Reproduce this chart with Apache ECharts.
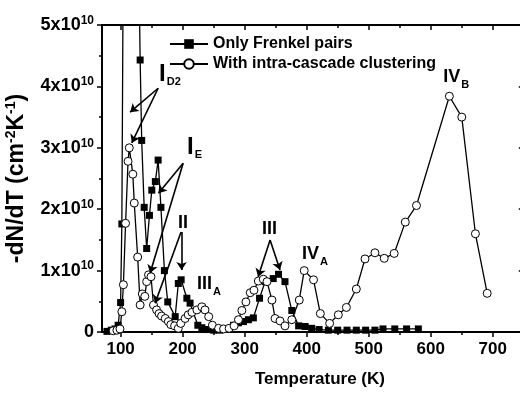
<!DOCTYPE html>
<html><head><meta charset="utf-8">
<script src="https://cdn.jsdelivr.net/npm/echarts@6/dist/echarts.min.js"></script>
<style>html,body{margin:0;padding:0;background:#fff}#c{width:520px;height:395px}</style>
</head><body><div id="c"></div>
<script>
// Temperature (K) and -dN/dT in units of 1e10 cm^-2 K^-1
const frenkelT = [78, 85, 91, 96, 100, 102, 105, 110, 118, 128, 131.5, 134, 138, 142, 146.5, 150.3, 156, 160.5, 165, 170.6, 176, 188, 193, 197.6, 206.8, 212, 224.5, 231, 240, 250, 260, 270, 282, 290, 298, 306, 314, 324, 333, 346, 354.5, 365, 376, 387, 397.5, 408, 420, 435, 450, 465, 480, 495, 510, 523, 542, 561, 580];
const frenkelV = [0.01, 0.03, 0.05, 0.11, 0.48, 1.76, 7.5, 10, 9, 7, 4.43, 3.12, 2.03, 1.36, 1.9, 2.31, 2.45, 2.8, 2.03, 1.0, 0.49, 0.25, 0.79, 0.85, 0.55, 0.47, 0.11, 0.07, 0.04, 0.03, 0.03, 0.05, 0.11, 0.15, 0.17, 0.2, 0.23, 0.55, 0.82, 0.87, 0.94, 0.82, 0.35, 0.1, 0.09, 0.06, 0.04, 0.03, 0.03, 0.03, 0.03, 0.03, 0.03, 0.05, 0.05, 0.05, 0.05];
const clusterT = [88, 94, 99, 102, 104.5, 108, 112, 114, 119.7, 122, 127.5, 131.5, 135, 139, 142, 145, 149, 153, 158, 162, 166, 172, 177, 181, 187, 193, 197, 204, 209, 215, 223, 231, 236, 242, 248, 258, 266, 275, 283, 290, 295.5, 302, 309, 315, 322, 330, 336, 344, 349, 357, 365, 376, 388, 396, 411, 422, 437, 451, 464, 480, 494, 510, 525, 541, 559, 577, 630, 650, 672, 691];
const clusterV = [0.02, 0.03, 0.05, 0.33, 0.77, 1.77, 2.78, 3.0, 2.57, 2.1, 1.22, 0.44, 0.62, 0.58, 0.82, 0.93, 0.9, 0.44, 0.36, 0.3, 0.26, 0.22, 0.17, 0.12, 0.1, 0.06, 0.14, 0.22, 0.28, 0.32, 0.36, 0.41, 0.36, 0.25, 0.11, 0.06, 0.05, 0.06, 0.1, 0.2, 0.35, 0.49, 0.64, 0.68, 0.83, 0.86, 0.82, 0.52, 0.22, 0.18, 0.1, 0.2, 0.52, 1.0, 0.85, 0.3, 0.14, 0.28, 0.4, 0.7, 1.19, 1.29, 1.2, 1.28, 1.79, 2.06, 3.84, 3.5, 1.6, 0.63];
const xMajorTicks = [100, 200, 300, 400, 500, 600, 700];
const xMinorTicks = [150, 250, 350, 450, 550, 650];
const seriesNames = ['Only Frenkel pairs', 'With intra-cascade clustering'];

const FONT = '"Liberation Sans", Arial, sans-serif';
const zip = (a, b) => a.map((t, i) => [t, b[i]]);

// annotation labels (data coordinates) and arrows
const annotations = [
  {pos: [162, 4.2], main: 'I', sub: 'D2', big: true},
  {pos: [207, 3.01], main: 'I', sub: 'E', big: true},
  {pos: [192.7, 1.77], main: 'II', sub: ''},
  {pos: [223.3, 0.78], main: 'III', sub: 'A'},
  {pos: [328, 1.68], main: 'III', sub: ''},
  {pos: [392.6, 1.27], main: 'IV', sub: 'A'},
  {pos: [620, 4.16], main: 'IV', sub: 'B'}
];
const arrows = [
  [[160.5, 3.97], [115.3, 3.58]],
  [[160.5, 3.97], [118, 3.08]],
  [[200.8, 2.75], [161, 2.26]],
  [[200.8, 2.75], [147.6, 0.96]],
  [[197.5, 1.63], [155.6, 0.47]],
  [[198.3, 1.63], [198.3, 1.01]],
  [[341, 1.5], [321.7, 0.9]],
  [[341, 1.5], [357, 1.01]]
];

const chart = echarts.init(document.getElementById('c'), null, {renderer: 'canvas'});
const axLine = {show: true, lineStyle: {color: '#000', width: 2}};
const baseX = {type: 'value', min: 70, max: 750, splitLine: {show: false}};
const tickStyle = {color: '#000', width: 1.5};

chart.setOption({
  animation: false,
  backgroundColor: '#fff',
  textStyle: {fontFamily: FONT, color: '#000'},
  grid: {left: 102, top: 25, width: 421.8, height: 307, containLabel: false, outerBoundsMode: 'none'},
  legend: {
    data: seriesNames,
    orient: 'vertical',
    left: 164, top: 31,
    itemWidth: 38, itemHeight: 12, itemGap: 4,
    textStyle: {fontFamily: FONT, fontSize: 16, fontWeight: 'bold', color: '#000'}
  },
  xAxis: [
    Object.assign({}, baseX, {
      position: 'bottom',
      name: 'Temperature (K)', nameLocation: 'middle', nameGap: 39,
      nameTextStyle: {fontFamily: FONT, fontSize: 17, fontWeight: 'bold', color: '#000', padding: [0, 0, 0, 14]},
      axisLine: axLine,
      axisTick: {show: true, inside: false, length: 5, lineStyle: tickStyle, customValues: xMajorTicks},
      axisLabel: {show: true, margin: 9, fontFamily: FONT, fontSize: 17, fontWeight: 'bold', color: '#000', customValues: xMajorTicks}
    }),
    Object.assign({}, baseX, {
      position: 'bottom',
      axisLine: {show: false},
      axisTick: {show: true, inside: false, length: 3, lineStyle: tickStyle, customValues: xMinorTicks},
      axisLabel: {show: false}
    }),
    Object.assign({}, baseX, {
      position: 'top',
      axisLine: axLine,
      axisTick: {show: true, inside: true, length: 5, lineStyle: tickStyle, customValues: xMajorTicks},
      axisLabel: {show: false}
    }),
    Object.assign({}, baseX, {
      position: 'top',
      axisLine: {show: false},
      axisTick: {show: true, inside: true, length: 3, lineStyle: tickStyle, customValues: xMinorTicks},
      axisLabel: {show: false}
    })
  ],
  yAxis: [
    {
      type: 'value', min: 0, max: 5, interval: 1, position: 'left',
      name: '-dN/dT (cm{s|-2}K{s|-1})', nameLocation: 'middle', nameGap: 69, nameRotate: 90,
      nameTextStyle: {fontFamily: FONT, fontSize: 23, fontWeight: 'bold', color: '#000', lineHeight: 26,
        rich: {s: {fontFamily: FONT, fontSize: 14, fontWeight: 'bold', color: '#000', padding: [0, 0, 11, 0]}}},
      splitLine: {show: false},
      axisLine: axLine,
      axisTick: {show: true, inside: false, length: 5, lineStyle: tickStyle},
      minorTick: {show: true, splitNumber: 2, length: 3, lineStyle: tickStyle},
      axisLabel: {
        margin: 8, color: '#000',
        formatter: v => v === 0 ? '{m|0}' : '{m|' + v + 'x10}{s|10}',
        rich: {
          m: {fontFamily: FONT, fontSize: 18, fontWeight: 'bold', color: '#000', lineHeight: 22},
          s: {fontFamily: FONT, fontSize: 12, fontWeight: 'bold', color: '#000', padding: [0, 0, 9, 0]}
        }
      }
    },
    {
      type: 'value', min: 0, max: 5, interval: 1, position: 'right',
      splitLine: {show: false},
      axisLine: axLine,
      axisTick: {show: true, inside: true, length: 5, lineStyle: tickStyle},
      minorTick: {show: true, splitNumber: 2, length: 3, lineStyle: tickStyle},
      axisLabel: {show: false}
    }
  ],
  series: [
    {
      name: seriesNames[0], type: 'line', xAxisIndex: 0, yAxisIndex: 0,
      data: zip(frenkelT, frenkelV),
      symbol: 'rect', symbolSize: 7, showAllSymbol: true,
      itemStyle: {color: '#000'},
      lineStyle: {color: '#000', width: 1.3},
      markLine: {
        silent: true, symbol: ['none', 'arrow'], symbolSize: 8,
        label: {show: false},
        lineStyle: {color: '#000', width: 1.6, type: 'solid'},
        emphasis: {disabled: true},
        data: arrows.map(a => [{coord: a[0]}, {coord: a[1]}])
      }
    },
    {
      name: seriesNames[1], type: 'line', xAxisIndex: 0, yAxisIndex: 0,
      data: zip(clusterT, clusterV),
      symbol: 'circle', symbolSize: 8, showAllSymbol: true,
      itemStyle: {color: '#fff', borderColor: '#000', borderWidth: 1},
      lineStyle: {color: '#000', width: 1.3}
    },
    {
      name: 'labels', type: 'scatter', xAxisIndex: 0, yAxisIndex: 0,
      symbolSize: 0, silent: true,
      itemStyle: {color: '#000', opacity: 1},
      emphasis: {disabled: true},
      data: annotations.map(a => ({
        value: a.pos,
        label: {
          show: true, position: 'right', distance: 0, color: '#000', opacity: 1,
          formatter: (a.big ? '{b|' : '{m|') + a.main + '}' + (a.sub ? '{s|' + a.sub + '}' : ''),
          rich: {
            b: {fontFamily: FONT, fontSize: 24, fontWeight: 'bold', color: '#000', lineHeight: 24},
            m: {fontFamily: FONT, fontSize: 18, fontWeight: 'bold', color: '#000', lineHeight: 20},
            s: {fontFamily: FONT, fontSize: 11, fontWeight: 'bold', color: '#000', padding: [16, 0, 0, 1]}
          }
        }
      }))
    }
  ]
});
</script></body></html>
